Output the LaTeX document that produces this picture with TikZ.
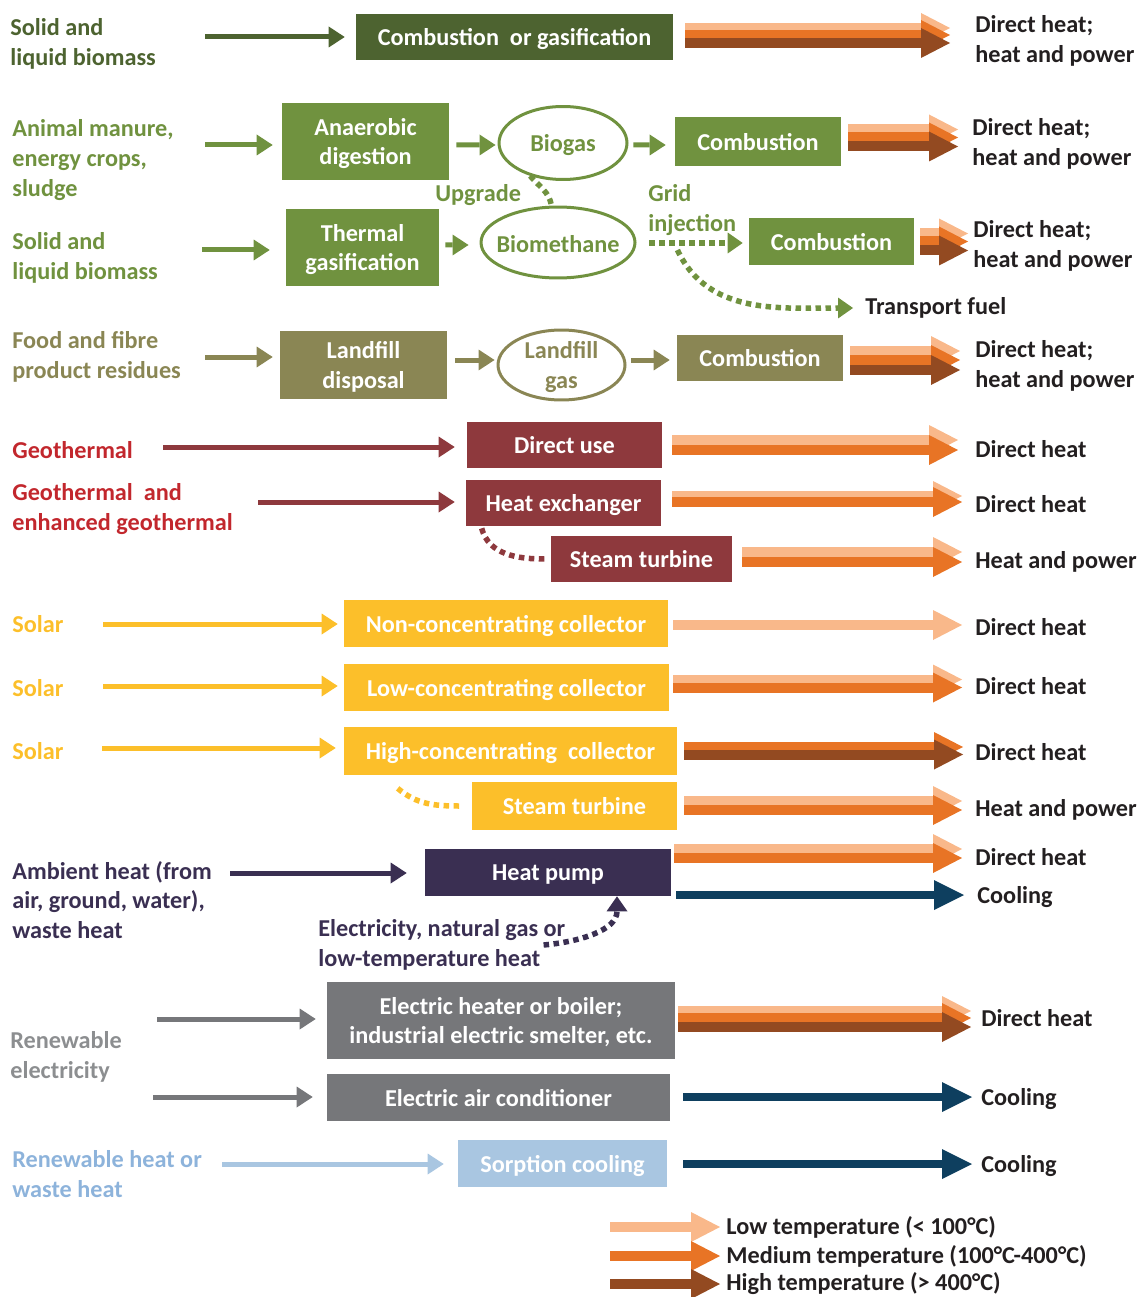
\documentclass[tikz,border=0pt]{standalone}
\usepackage{fontspec}
\setmainfont{Carlito}
\usetikzlibrary{positioning,arrows.meta,shapes.geometric,calc}

\definecolor{dkgreen}{HTML}{4D6330}
\definecolor{biogreen}{HTML}{70923F}
\definecolor{landolive}{HTML}{8A8654}
\definecolor{geored}{HTML}{8E393D}
\definecolor{geotext}{HTML}{C2272D}
\definecolor{solar}{HTML}{FCBF2A}
\definecolor{hpurple}{HTML}{3A2F52}
\definecolor{greybox}{HTML}{76777A}
\definecolor{greytext}{HTML}{8C8E90}
\definecolor{bluebox}{HTML}{A9C6E1}
\definecolor{bluetext}{HTML}{8DB3DB}
\definecolor{lowc}{HTML}{F9B88A}
\definecolor{medc}{HTML}{E87425}
\definecolor{highc}{HTML}{934A21}
\definecolor{coolc}{HTML}{0E3F5F}
\definecolor{textc}{HTML}{231F20}

\tikzset{
  box/.style={fill=#1, text=white, align=center, inner sep=0pt, text depth=0pt},
  gas/.style={ellipse, draw=#1, line width=0.06cm, inner sep=0pt},
  gastext/.style={text=#1, align=center, yshift=-0.04cm},
  lab/.style={text=#1, align=left, anchor=west, inner sep=0pt, yshift=-0.04cm},
  result/.style={text=textc, align=left, anchor=west, inner sep=0pt, yshift=-0.04cm},
  feed/.style={draw=#1, line width=0.1cm, -{Triangle[length=0.32cm,width=0.42cm,line width=0pt]}},
  heat/.style={draw=#1, line width=0.2cm, -{Triangle[length=0.58cm,width=0.6cm,line width=0pt]}},
  cool/.style={draw=coolc, line width=0.16cm, -{Triangle[length=0.6cm,width=0.6cm,line width=0pt]}},
  dots/.style={draw=#1, line width=0.11cm, dash pattern=on 0.11cm off 0.09cm},
  dothead/.style={-{Triangle[length=0.3cm,width=0.42cm,line width=0pt]}}
}

% box, output text, start gap, end gap, colour/shift list
\newcommand{\hot}[5]{%
  \foreach \c/\d in {#5}
    \draw[heat=\c] ($(#1.east)+(#3,\d)$) -- ($(#1.east -| #2.west)+(-#4,\d)$);
}

\begin{document}
\begin{tikzpicture}[x=0.02cm, y=0.02cm, every node/.style={font=\bfseries\fontsize{13.8}{17}\selectfont}]
\useasboundingbox (0,0) rectangle (1140,-1297);

% solid and liquid biomass
\node[lab=dkgreen] (src1) at (10,-42) {Solid and\\liquid biomass};
\node[box=dkgreen, minimum width=6.34cm, minimum height=0.92cm] (c1) at (514.5,-37) {Combustion~~or gasification};
\node[result] (o1) at (975,-39) {Direct heat;\\heat and power};

% anaerobic digestion
\node[lab=biogreen] (src2) at (12,-158) {Animal manure,\\energy crops,\\sludge};
\node[box=biogreen, minimum width=3.34cm, minimum height=1.54cm] (a2) at (365.5,-141.5) {Anaerobic\\digestion};
\node[gas=biogreen, minimum width=2.56cm, minimum height=1.46cm, label={[gastext=biogreen]center:Biogas}] (e2) at (563,-143) {};
\node[box=biogreen, minimum width=3.32cm, minimum height=0.98cm] (c2) at (758,-141.5) {Combustion};
\node[result] (o2) at (972,-142) {Direct heat;\\heat and power};
\node[lab=biogreen] (up) at (435,-193) {Upgrade};

% gasification
\node[lab=biogreen] (src3) at (12,-256) {Solid and\\liquid biomass};
\node[box=biogreen, minimum width=3.06cm, minimum height=1.54cm] (t3) at (362.5,-247.5) {Thermal\\gasification};
\node[gas=biogreen, minimum width=3.08cm, minimum height=1.42cm, label={[gastext=biogreen]center:Biomethane}] (e3) at (558,-242.5) {};
\node[lab=biogreen] (grid) at (648,-208) {Grid\\injection};
\node[box=biogreen, minimum width=3.30cm, minimum height=0.94cm] (c3) at (831.5,-241.5) {Combustion};
\node[result] (o3) at (973,-243.5) {Direct heat;\\heat and power};
\node[result] (tf) at (865,-306) {Transport fuel};

% landfill
\node[lab=landolive] (src4) at (12,-355) {Food and fibre\\product residues};
\node[box=landolive, minimum width=3.34cm, minimum height=1.36cm] (l4) at (363.5,-365) {Landfill\\disposal};
\node[gas=landolive, minimum width=2.54cm, minimum height=1.40cm, label={[gastext=landolive]center:Landfill\\gas}] (e4) at (561.5,-365) {};
\node[box=landolive, minimum width=3.32cm, minimum height=0.92cm] (c4) at (760,-358) {Combustion};
\node[result] (o4) at (975,-363.5) {Direct heat;\\heat and power};

% geothermal
\node[lab=geotext] (src5) at (12,-448) {Geothermal};
\node[box=geored, minimum width=3.90cm, minimum height=0.92cm] (g1) at (564.5,-445) {Direct use};
\node[result] (og1) at (975,-447) {Direct heat};
\node[lab=geotext] (src6) at (12,-507) {Geothermal~~and\\enhanced geothermal};
\node[box=geored, minimum width=3.90cm, minimum height=0.92cm] (g2) at (563.5,-503) {Heat exchanger};
\node[result] (og2) at (975,-502) {Direct heat};
\node[box=geored, minimum width=3.62cm, minimum height=0.92cm] (g3) at (641.5,-559) {Steam turbine};
\node[result] (og3) at (975,-560) {Heat and power};

% solar
\node[lab=solar] (src7) at (12,-622) {Solar};
\node[box=solar, minimum width=6.48cm, minimum height=0.94cm] (s1) at (506,-623.5) {Non-concentrating collector};
\node[result] (os1) at (975,-625) {Direct heat};
\node[lab=solar] (src8) at (12,-686) {Solar};
\node[box=solar, minimum width=6.50cm, minimum height=0.94cm] (s2) at (506.5,-687.5) {Low-concentrating collector};
\node[result] (os2) at (975,-684) {Direct heat};
\node[lab=solar] (src9) at (12,-749) {Solar};
\node[box=solar, minimum width=6.66cm, minimum height=0.96cm] (s3) at (510.5,-751) {High-concentrating~~collector};
\node[result] (os3) at (975,-750) {Direct heat};
\node[box=solar, minimum width=4.10cm, minimum height=0.96cm] (s4) at (574.5,-806) {Steam turbine};
\node[result] (os4) at (975,-808) {Heat and power};

% heat pump
\node[lab=hpurple] (src10) at (12,-898) {Ambient heat (from\\air, ground, water),\\waste heat};
\node[box=hpurple, minimum width=4.92cm, minimum height=0.94cm] (h1) at (548,-872.5) {Heat pump};
\node[result] (oh1) at (975,-855) {Direct heat};
\node[result] (oh2) at (977,-895) {Cooling};
\node[lab=hpurple] (drive) at (318,-943) {Electricity, natural gas or\\low-temperature heat};

% renewable electricity
\node[lab=greytext] (src11) at (10,-1055) {Renewable\\electricity};
\node[box=greybox, minimum width=6.96cm, minimum height=1.54cm] (r1) at (501,-1020.5) {Electric heater or boiler;\\industrial electric smelter, etc.};
\node[result] (or1) at (981,-1016) {Direct heat};
\node[box=greybox, minimum width=6.86cm, minimum height=0.94cm] (r2) at (498.5,-1097.5) {Electric air conditioner};
\node[result] (or2) at (981,-1097) {Cooling};

% sorption
\node[lab=bluetext] (src12) at (12,-1172) {Renewable heat or\\waste heat};
\node[box=bluebox, minimum width=4.18cm, minimum height=0.94cm] (r3) at (562.5,-1163.5) {Sorption cooling};
\node[result] (or3) at (981,-1164) {Cooling};

% legend
\node[result] (k1) at (726,-1225) {Low temperature (< 100°C)};
\node[result] (k2) at (726,-1254) {Medium temperature (100°C-400°C)};
\node[result] (k3) at (726,-1282) {High temperature (> 400°C)};
\coordinate (kx) at (610,0);

% feeding arrows
\coordinate (i1) at (205,-37);
\coordinate (i2) at (205,-145);
\coordinate (i3) at (202,-250);
\coordinate (i4) at (205,-357);
\coordinate (i5) at (163,-447);
\coordinate (i6) at (258,-502);
\coordinate (i7) at (103,-624);
\coordinate (i8) at (103,-686);
\coordinate (i9) at (102,-748);
\coordinate (i10) at (230,-873);
\coordinate (i11) at (157,-1019);
\coordinate (i12) at (153,-1097);
\coordinate (i13) at (222,-1164);
\draw[feed=dkgreen] (i1) -- ($(i1 -| c1.west)+(-11,0)$);
\draw[feed=biogreen] (i2) -- ($(i2 -| a2.west)+(-9,0)$);
\draw[feed=biogreen] ($(a2.east)+(7,-3.5)$) -- ($(e2.west)+(-2,-2)$);
\draw[feed=biogreen] ($(e2.east)+(5,-2)$) -- ($(c2.west)+(-9,-3.5)$);
\draw[feed=biogreen] (i3) -- ($(i3 -| t3.west)+(-16,0)$);
\draw[feed=biogreen] ($(t3.east)+(6,2.5)$) -- ($(e3.west)+(-11,-2.5)$);
\draw[feed=landolive] (i4) -- ($(i4 -| l4.west)+(-7,0)$);
\draw[feed=landolive] ($(l4.east)+(8,5)$) -- ($(e4.west)+(-2,5)$);
\draw[feed=landolive] ($(e4.east)+(5,5)$) -- ($(c4.west)+(-7,-2)$);
\draw[feed=geored] (i5) -- ($(i5 -| g1.west)+(-12,0)$);
\draw[feed=geored] (i6) -- ($(i6 -| g2.west)+(-11,0)$);
\draw[feed=solar] (i7) -- ($(i7 -| s1.west)+(-6,0)$);
\draw[feed=solar] (i8) -- ($(i8 -| s2.west)+(-6,0)$);
\draw[feed=solar] (i9) -- ($(i9 -| s3.west)+(-8,0)$);
\draw[feed=hpurple] (i10) -- ($(i10 -| h1.west)+(-18,0)$);
\draw[feed=greybox] (i11) -- ($(i11 -| r1.west)+(-11,0)$);
\draw[feed=greybox] (i12) -- ($(i12 -| r2.west)+(-14,0)$);
\draw[feed=bluebox] (i13) -- ($(i13 -| r3.west)+(-14,0)$);

% dotted links
\coordinate (gi) at ($(e3.east)+(13,-0.5)$);
\draw[dots=biogreen] (e2.225) to[out=-50,in=100] (e3.100);
\draw[dots=biogreen, dothead] (gi) -- coordinate[pos=0.3] (gj) ($(gi -| c3.west)+(-6,0)$);
\draw[dots=biogreen, dothead] ($(gj)+(0,-7)$) to[out=-65,in=180] ($(tf.west)+(-12,0)$);
\draw[dots=geored] ($(g2.south west)+(16,-2)$) to[out=-75,in=180] ($(g3.west)+(-6,0)$);
\draw[dots=solar] ($(s3.south west)+(54,-13)$) to[out=-40,in=180] ($(s4.west)+(-12,0)$);
\draw[dots=hpurple, dothead] ($(drive.east)+(-22,0)$) to[out=5,in=-90] ($(h1.south)+(69,0)$);

% temperature arrows
\hot{c1}{o1}{12}{25}{lowc/9,medc/2,highc/-6}
\hot{c2}{o2}{7}{14}{lowc/12,medc/4,highc/-5}
\hot{c3}{o3}{6}{5}{lowc/8,medc/0,highc/-9}
\hot{c4}{o4}{7}{15}{lowc/7,medc/-2,highc/-12}
\hot{g1}{og1}{10}{17}{lowc/5,medc/-5}
\hot{g2}{og2}{11}{13}{lowc/7,medc/1}
\hot{g3}{og3}{10}{13}{lowc/7,medc/-3}
\hot{s1}{os1}{5}{13}{lowc/-1.5}
\hot{s2}{os2}{4}{13}{lowc/8,medc/0}
\hot{s3}{os3}{7}{12}{medc/4,highc/-3.5}
\hot{s4}{os4}{7}{13}{lowc/5,medc/-4}
\hot{h1}{oh1}{3}{13}{lowc/23.5,medc/14.5}
\hot{r1}{or1}{3}{10}{lowc/9.5,medc/2.5,highc/-6.5}

% cooling arrows
\draw[cool] ($(h1.east)+(5,-22.5)$) -- ($(h1.east -| oh2.west)+(-13,-22.5)$);
\draw[cool] ($(r2.east)+(13,0.5)$) -- ($(r2.east -| or2.west)+(-9,0.5)$);
\draw[cool] ($(r3.east)+(16,-0.5)$) -- ($(r3.east -| or3.west)+(-9,-0.5)$);

% legend arrows
\draw[heat=lowc] (k1.west -| kx) -- ($(k1.west)+(-6,0)$);
\draw[heat=medc] (k2.west -| kx) -- ($(k2.west)+(-6,0)$);
\draw[heat=highc] (k3.west -| kx) -- ($(k3.west)+(-6,0)$);
\end{tikzpicture}
\end{document}
